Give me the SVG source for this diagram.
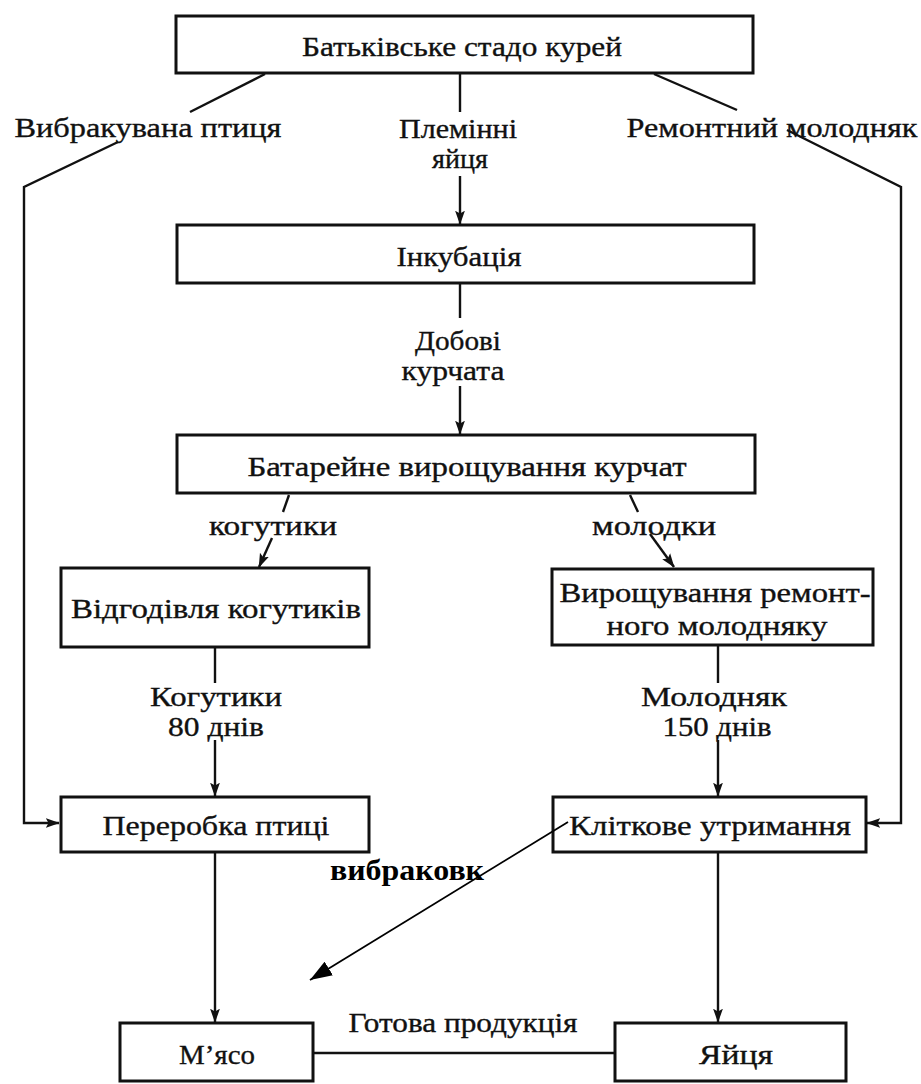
<svg xmlns="http://www.w3.org/2000/svg" width="921" height="1084" viewBox="0 0 921 1084">
<style>
.box{fill:#fff;stroke:#111;stroke-width:3}
.t{font-family:"Liberation Serif","Times New Roman",serif;font-size:28px;fill:#111;stroke:#111;stroke-width:0.35;text-anchor:middle}
.ln{fill:none;stroke:#111;stroke-width:2.4}
.thin{fill:none;stroke:#000;stroke-width:1.8}
.b{font-family:"Liberation Serif","Times New Roman",serif;font-size:30px;font-weight:bold;fill:#000;text-anchor:middle}
</style>
<defs>
<marker id="ah" markerWidth="14" markerHeight="20" refX="19" refY="7" viewBox="0 0 20 14" orient="auto" markerUnits="userSpaceOnUse">
<path d="M0,0 L20,7 L0,14 L4,7 Z" fill="#111"/>
</marker>
<marker id="ah2" markerWidth="22" markerHeight="16" refX="22" refY="8" viewBox="0 0 22 16" orient="auto" markerUnits="userSpaceOnUse">
<path d="M0,0 L22,8 L0,16 Z" fill="#000"/>
</marker>
</defs>
<rect width="921" height="1084" fill="#fff"/>
<g id="n1"><rect class="box" x="176" y="16" width="577" height="57"/><text class="t" x="462" y="56" textLength="320" lengthAdjust="spacingAndGlyphs">Батьківське стадо курей</text></g>
<g id="n2"><rect class="box" x="177" y="225" width="577" height="58"/><text class="t" x="459" y="266" textLength="125" lengthAdjust="spacingAndGlyphs">Інкубація</text></g>
<g id="n3"><rect class="box" x="177" y="435" width="578" height="58"/><text class="t" x="467" y="476" textLength="439" lengthAdjust="spacingAndGlyphs">Батарейне вирощування курчат</text></g>
<g id="n4"><rect class="box" x="61" y="568" width="308" height="79"/><text class="t" x="216" y="618" textLength="290" lengthAdjust="spacingAndGlyphs">Відгодівля когутиків</text></g>
<g id="n5"><rect class="box" x="552" y="569" width="321" height="76"/><text class="t" x="715" y="602" textLength="311" lengthAdjust="spacingAndGlyphs">Вирощування ремонт-</text><text class="t" x="717" y="635" textLength="221" lengthAdjust="spacingAndGlyphs">ного молодняку</text></g>
<g id="n6"><rect class="box" x="61" y="797" width="308" height="55"/><text class="t" x="216" y="835" textLength="227" lengthAdjust="spacingAndGlyphs">Переробка птиці</text></g>
<g id="n7"><rect class="box" x="553" y="797" width="313" height="55"/><text class="t" x="710" y="835" textLength="282" lengthAdjust="spacingAndGlyphs">Кліткове утримання</text></g>
<g id="n8"><rect class="box" x="120" y="1023" width="193" height="58"/><text class="t" x="217" y="1064" textLength="76" lengthAdjust="spacingAndGlyphs">М’ясо</text></g>
<g id="n9"><rect class="box" x="615" y="1023" width="231" height="58"/><text class="t" x="736" y="1064" textLength="74" lengthAdjust="spacingAndGlyphs">Яйця</text></g>
<g id="connectors">
<path class="ln" d="M265,74 L190,112"/>
<path class="ln" d="M118,142 L24,187 L24,823 L59,823" marker-end="url(#ah)"/>
<path class="ln" d="M460,74 L460,112"/>
<path class="ln" d="M460,176 L460,224" marker-end="url(#ah)"/>
<path class="ln" d="M654,74 L737,110"/>
<path class="ln" d="M787,130 L901,187 L901,823 L867,823" marker-end="url(#ah)"/>
<path class="ln" d="M460,284 L460,318"/>
<path class="ln" d="M460,386 L460,434" marker-end="url(#ah)"/>
<path class="ln" d="M289,495 L283,512"/>
<path class="ln" d="M272,538 L259,567" marker-end="url(#ah)"/>
<path class="ln" d="M630,495 L638,512"/>
<path class="ln" d="M650,534 L674,567" marker-end="url(#ah)"/>
<path class="ln" d="M215,648 L215,683"/>
<path class="ln" d="M215,740 L215,796" marker-end="url(#ah)"/>
<path class="ln" d="M718,646 L718,683"/>
<path class="ln" d="M718,740 L718,796" marker-end="url(#ah)"/>
<path class="ln" d="M215,853 L215,1022" marker-end="url(#ah)"/>
<path class="ln" d="M718,853 L718,1022" marker-end="url(#ah)"/>
<path class="ln" d="M313,1053 L615,1053"/>
<path class="thin" d="M568,822 L310,980" marker-end="url(#ah2)"/>
</g>
<g id="labels">
<text class="t" x="148" y="137" textLength="267" lengthAdjust="spacingAndGlyphs">Вибракувана птиця</text>
<text class="t" x="458" y="138" textLength="118" lengthAdjust="spacingAndGlyphs">Племінні</text>
<text class="t" x="460" y="168" textLength="56" lengthAdjust="spacingAndGlyphs">яйця</text>
<text class="t" x="772" y="137" textLength="291" lengthAdjust="spacingAndGlyphs">Ремонтний молодняк</text>
<text class="t" x="458" y="350" textLength="86" lengthAdjust="spacingAndGlyphs">Добові</text>
<text class="t" x="453" y="380" textLength="103" lengthAdjust="spacingAndGlyphs">курчата</text>
<text class="t" x="273" y="535" textLength="128" lengthAdjust="spacingAndGlyphs">когутики</text>
<text class="t" x="654" y="535" textLength="124" lengthAdjust="spacingAndGlyphs">молодки</text>
<text class="t" x="216" y="706" textLength="132" lengthAdjust="spacingAndGlyphs">Когутики</text>
<text class="t" x="216" y="736" textLength="96" lengthAdjust="spacingAndGlyphs">80 днів</text>
<text class="t" x="714" y="706" textLength="146" lengthAdjust="spacingAndGlyphs">Молодняк</text>
<text class="t" x="717" y="736" textLength="109" lengthAdjust="spacingAndGlyphs">150 днів</text>
<text class="b" x="407" y="880" textLength="154" lengthAdjust="spacingAndGlyphs">вибраковк</text>
<text class="t" x="463" y="1032" textLength="229" lengthAdjust="spacingAndGlyphs">Готова продукція</text>
</g>
</svg>
